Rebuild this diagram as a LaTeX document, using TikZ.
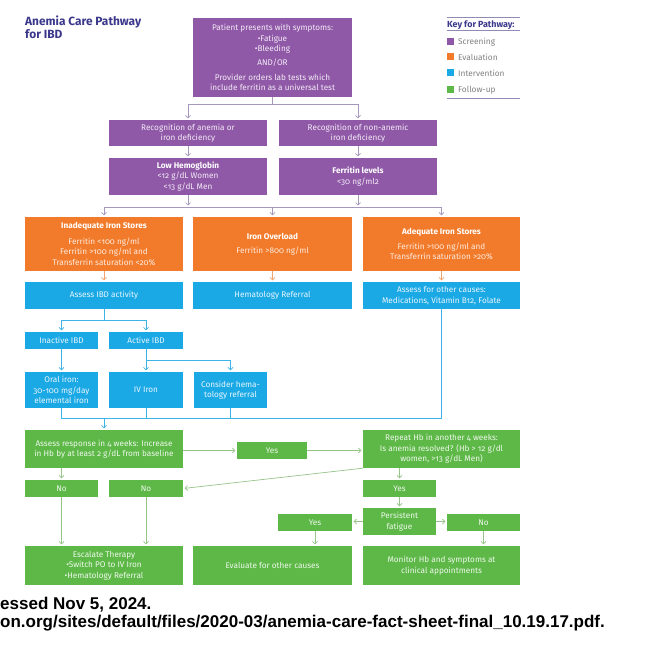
\documentclass[tikz,border=0pt]{standalone}
\usepackage{fontspec}
\setmainfont{Fira Sans}[Numbers=OldStyle]
\newfontfamily\reffont{Liberation Sans}
\usetikzlibrary{arrows.meta}
\definecolor{cpur}{HTML}{9059A8}
\definecolor{cora}{HTML}{F27B2B}
\definecolor{cblu}{HTML}{1BA9E6}
\definecolor{cgre}{HTML}{5DB847}
\definecolor{ctitle}{HTML}{3B388C}
\definecolor{lpur}{HTML}{A597BD}
\definecolor{lora}{HTML}{F3A46C}
\definecolor{lblu}{HTML}{3DB3E6}
\definecolor{lgre}{HTML}{96C489}
\definecolor{keyline}{HTML}{8F8BB5}
\newcommand\boxfont{\fontsize{8.2}{10.4}\selectfont}
\newcommand\mkbox[7]{\node[#6, minimum width={(#4)-(#2)}, minimum height={(#5)-(#3)}] (#1) at ({((#2)+(#4))/2},{((#3)+(#5))/2}) {#7};}
\tikzset{
  bx/.style={rectangle, inner sep=1pt, align=center, font=\boxfont},
  pur/.style={bx, fill=cpur, text=white!88!cpur},
  ora/.style={bx, fill=cora, text=white!85!cora},
  blu/.style={bx, fill=cblu, text=white!90!cblu},
  gre/.style={bx, fill=cgre, text=white!90!cgre},
  ln/.style={line width=0.7pt},
  tip/.style={-{Straight Barb[length=2.5pt,width=5pt]}, shorten >=1.5pt},
  lnP/.style={ln, draw=lpur}, arrP/.style={lnP, tip},
  lnO/.style={ln, draw=lora}, arrO/.style={lnO, tip},
  lnB/.style={ln, draw=lblu}, arrB/.style={lnB, tip},
  lnG/.style={ln, draw=lgre}, arrG/.style={lnG, tip},
  keytxt/.style={anchor=west, inner sep=0, text=black!50, font=\fontsize{8.3}{9}\selectfont},
}
\begin{document}
\begin{tikzpicture}[x=1pt,y=-1pt]
\useasboundingbox (0,0) rectangle (662,647);
\fill[white] (0,0) rectangle (662,647);
\clip (0,0) rectangle (662,647);

% title
\node[anchor=north west, align=left, inner sep=0, text=ctitle, font=\fontsize{11.9}{12.5}\selectfont\bfseries] (title) at (25,16) {Anemia Care Pathway\\for IBD};

% key
\draw[keyline, line width=1pt] (447,18) -- (520,18);
\node[anchor=west, inner sep=0, text=ctitle, font=\fontsize{8.9}{9}\selectfont\bfseries] (keyt) at (447,25) {Key for Pathway:};
\draw[keyline, line width=1pt] (447,31) -- (520,31);
\fill[cpur] (447,38.5) rectangle (454,45.5);
\node[keytxt] (k1) at (458,42) {Screening};
\fill[cora] (447,53.5) rectangle (454,60.5);
\node[keytxt] (k2) at (458,57) {Evaluation};
\fill[cblu] (447,69.5) rectangle (454,76.5);
\node[keytxt] (k3) at (458,73) {Intervention};
\fill[cgre] (447,86.5) rectangle (454,93.5);
\node[keytxt] (k4) at (458,90) {Follow-up};
\draw[keyline, line width=1pt] (447,99) -- (520,99);

% purple
\mkbox{top}{193}{18}{352}{97}{pur}{Patient presents with symptoms:\\ •Fatigue\\ •Bleeding\\[4pt] AND/OR\\[4pt] Provider orders lab tests which\\ include ferritin as a universal test}
\mkbox{r2l}{109}{120}{267}{146}{pur}{Recognition of anemia or\\ iron deficiency}
\mkbox{r2r}{279}{120}{437}{146}{pur}{Recognition of non-anemic\\ iron deficiency}
\mkbox{r3l}{109}{158}{267}{195}{pur}{\textbf{\color{white}Low Hemoglobin}\\ <12 g/dL Women\\ <13 g/dL Men}
\mkbox{r3r}{279}{158}{437}{195}{pur}{\textbf{\color{white}Ferritin levels}\\ <30 ng/ml2}

% orange
\mkbox{r4l}{25}{217}{183}{271}{ora}{\textbf{\color{white}Inadequate Iron Stores}\\[5pt] Ferritin <100 ng/ml\\ Ferritin >100 ng/ml and\\ Transferrin saturation <20\%}
\mkbox{r4m}{193}{217}{352}{271}{ora}{\textbf{\color{white}Iron Overload}\\[4pt] Ferritin >800 ng/ml}
\mkbox{r4r}{363}{217}{520}{271}{ora}{\textbf{\color{white}Adequate Iron Stores}\\[5pt] Ferritin >100 ng/ml and\\ Transferrin saturation >20\%}

% blue
\mkbox{r5l}{25}{282}{183}{309}{blu}{Assess IBD activity}
\mkbox{r5m}{193}{282}{352}{309}{blu}{Hematology Referral}
\mkbox{r5r}{363}{282}{520}{309}{blu}{Assess for other causes:\\ Medications, Vitamin B12, Folate}
\mkbox{r6l}{25}{332}{98}{349}{blu}{Inactive IBD}
\mkbox{r6r}{109}{332}{183}{349}{blu}{Active IBD}
\mkbox{r7l}{25}{372}{98}{408}{blu}{Oral iron:\\ 30-100 mg/day\\ elemental iron}
\mkbox{r7m}{109}{372}{183}{408}{blu}{IV Iron}
\mkbox{r7c}{194}{372}{267}{408}{blu}{Consider hema-\\ tology referral}

% green
\mkbox{r8l}{25}{430}{183}{468}{gre}{Assess response in 4 weeks: Increase\\ in Hb by at least 2 g/dL from baseline}
\mkbox{yes1}{237}{442}{307}{459}{gre}{Yes}
\mkbox{r8r}{363}{430}{520}{468}{gre}{Repeat Hb in another 4 weeks:\\ Is anemia resolved? (Hb > 12 g/dl\\ women, >13 g/dL Men)}
\mkbox{no1}{25}{480}{98}{497}{gre}{No}
\mkbox{no2}{109}{480}{183}{497}{gre}{No}
\mkbox{yes2}{363}{480}{436}{497}{gre}{Yes}
\mkbox{pf}{363}{508}{436}{535}{gre}{Persistent\\ fatigue}
\mkbox{yes3}{278}{514}{352}{531}{gre}{Yes}
\mkbox{no3}{447}{514}{520}{531}{gre}{No}
\mkbox{r11l}{25}{546}{183}{585}{gre}{Escalate Therapy\\ •Switch PO to IV Iron\\ •Hematology Referral}
\mkbox{r11m}{193}{546}{352}{585}{gre}{Evaluate for other causes}
\mkbox{r11r}{363}{546}{520}{585}{gre}{Monitor Hb and symptoms at\\ clinical appointments}

% connectors purple
\coordinate (j1) at (272.5,104);
\draw[lnP] (top.south) -- (j1);
\draw[arrP] (j1) -| (r2l.north);
\draw[arrP] (j1) -| (r2r.north);
\draw[arrP] (r2l.south) -- (r3l.north);
\draw[arrP] (r2r.south) -- (r3r.north);
\coordinate (j2) at (0,207);
\draw[arrP] (r3l.south) -- (r3l.south |- j2);
\draw[arrP] (r3r.south) -- (r3r.south |- j2);
\draw[lnP] (r4l.north |- j2) -- (r4r.north |- j2);
\draw[arrP] (r4l.north |- j2) -- (r4l.north);
\draw[arrP] (r4m.north |- j2) -- (r4m.north);
\draw[arrP] (r4r.north |- j2) -- (r4r.north);
% orange
\draw[arrO] (r4l.south) -- (r5l.north);
\draw[arrO] (r4m.south) -- (r5m.north);
\draw[arrO] (r4r.south) -- (r5r.north);
% blue
\coordinate (j3) at (0,320);
\draw[lnB] (r5l.south) -- (r5l.south |- j3);
\draw[lnB] (r6l.north |- j3) -- (r6r.north |- j3);
\draw[arrB] (r6l.north |- j3) -- (r6l.north);
\draw[arrB] (r6r.north |- j3) -- (r6r.north);
\draw[arrB] (r6l.south) -- (r7l.north);
\coordinate (j4) at (0,360);
\draw[lnB] (r6r.south) -- (r6r.south |- j4) -- (r7c.north |- j4);
\draw[arrB] (r6r.south |- j4) -- (r7m.north);
\draw[arrB] (r7c.north |- j4) -- (r7c.north);
\coordinate (j5) at (0,418);
\draw[lnB] (r7l.south) -- (r7l.south |- j5) -- (r5r.south |- j5) -- (r5r.south);
\draw[lnB] (r7m.south) -- (r7m.south |- j5);
\draw[lnB] (r7c.south) -- (r7c.south |- j5);
\draw[arrB] (r8l.north |- j5) -- (r8l.north);
% green
\draw[arrG] (r8l.east |- yes1.west) -- (yes1.west);
\draw[arrG] (yes1.east) -- (r8r.west |- yes1.east);
\draw[arrG] (r8l.south -| no1.north) -- (no1.north);
\draw[arrG] (r8r.south west) -- (no2.east);
\draw[arrG] (r8r.south -| yes2.north) -- (yes2.north);
\draw[arrG] (yes2.south) -- (pf.north);
\draw[arrG] (pf.west) -- (pf.west -| yes3.east);
\draw[arrG] (pf.east) -- (pf.east -| no3.west);
\draw[arrG] (no1.south) -- (no1.south |- r11l.north);
\draw[arrG] (no2.south) -- (no2.south |- r11l.north);
\draw[arrG] (yes3.south) -- (yes3.south |- r11m.north);
\draw[arrG] (no3.south) -- (no3.south |- r11r.north);

% reference text
\node[anchor=base west, inner sep=0, font=\reffont\bfseries\fontsize{17}{18}\selectfont] (ref1) at (0,609) {essed Nov 5, 2024.};
\node[anchor=base west, inner sep=0, font=\reffont\bfseries\fontsize{17}{18}\selectfont] (ref2) at (0,627) {on.org/sites/default/files/2020-03/anemia-care-fact-sheet-final\_10.19.17.pdf.};
\end{tikzpicture}
\end{document}
